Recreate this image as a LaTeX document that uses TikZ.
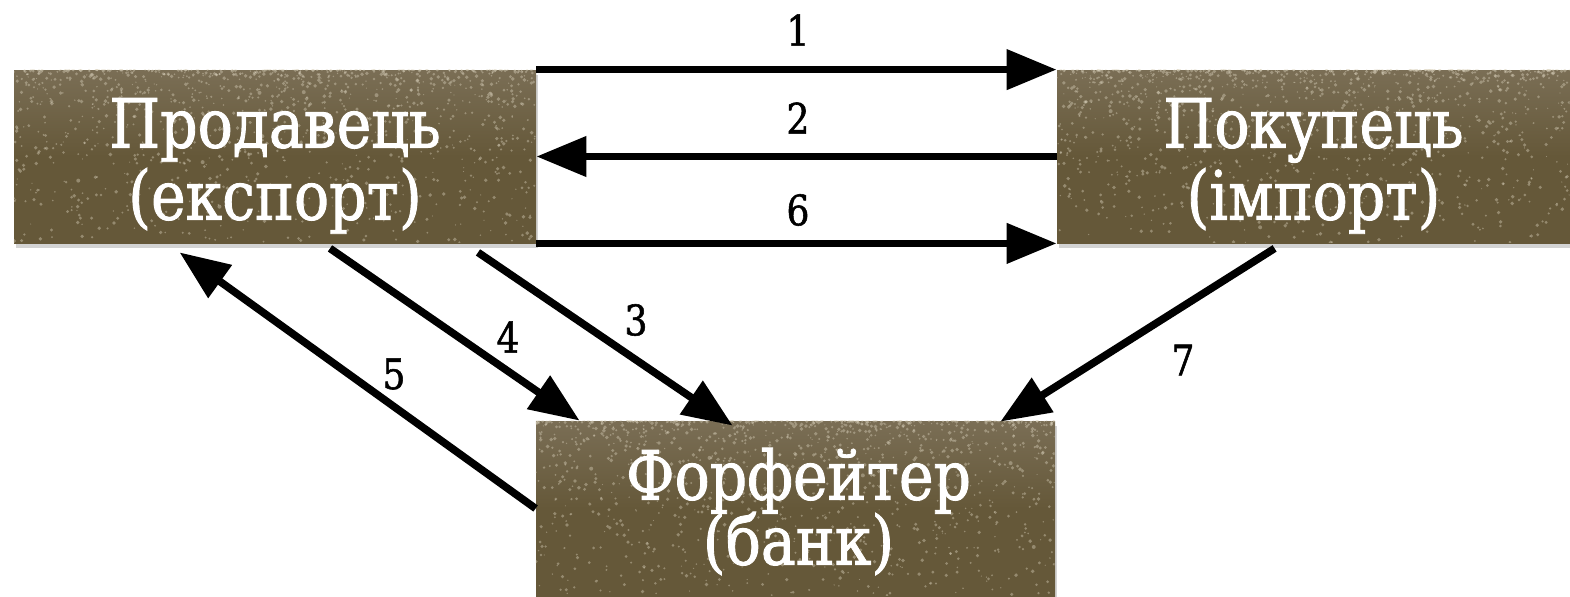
\documentclass[tikz,border=0pt]{standalone}
\usepackage{fontspec}
\setmainfont{DejaVu Serif}[FakeStretch=0.86,FakeBold=1.3]
\usetikzlibrary{arrows.meta,calc,shadows}
\definecolor{boxbrown}{HTML}{655839}
\definecolor{boxlight}{HTML}{7A6E55}
\definecolor{speck}{HTML}{DDD5C0}
\tikzset{
  panel/.style={rectangle, draw=none, inner sep=0pt,
    top color=boxlight, bottom color=boxbrown, middle color=boxbrown,
    drop shadow={shadow xshift=1pt, shadow yshift=-2.5pt, opacity=0.35}},
  paneltext/.style={text=white, font=\fontsize{34}{36}\selectfont, inner sep=0pt, anchor=base},
  flow/.style={line width=3.8pt, -{Triangle[length=25pt,width=19.5pt]}},
  numlabel/.style={font=\fontsize{21}{24}\selectfont, inner sep=0pt}
}
\newcommand\specklebox[3]{% node, width, height (px)
  \begin{scope}[shift={(#1.north west)}]
    \clip (0,0) rectangle (#2,#3);
    \foreach \k in {1,...,1300}{
      \pgfmathsetmacro\px{rnd*#2}
      \pgfmathsetmacro\py{(rnd^2.2)*#3}
      \pgfmathsetmacro\pr{0.3+rnd*0.7}
      \fill[speck, opacity=0.4] (\px,\py) circle[radius=\pr pt];
    }
  \end{scope}}
\begin{document}
\begin{tikzpicture}[x=0.5pt,y=-0.5pt]
\pgfmathsetseed{11}
\useasboundingbox (0,0) rectangle (1570,596);
% boxes
\node[panel, minimum width=261pt, minimum height=86.5pt] (L) at (275,156.5) {};
\node[panel, minimum width=256.5pt, minimum height=86.5pt] (R) at (1313.5,156.5) {};
\node[panel, minimum width=259.5pt, minimum height=87.5pt] (F) at (795.5,508.5) {};
\specklebox{L}{522}{173}
\specklebox{R}{513}{173}
\specklebox{F}{519}{175}
% texts
\node[paneltext] (Lt1) at ($(L.north)+(0,78)$) {Продавець};
\node[paneltext] (Lt2) at ($(L.north)+(0,150)$) {(експорт)};
\node[paneltext] (Rt1) at ($(R.north)+(0,78)$) {Покупець};
\node[paneltext] (Rt2) at ($(R.north)+(0,150)$) {(імпорт)};
\node[paneltext] (Ft1) at ($(F.north)+(3,79)$) {Форфейтер};
\node[paneltext] (Ft2) at ($(F.north)+(3,144)$) {(банк)};
% connectors
\draw[flow] (L.north east) -- (R.north west);
\draw[flow] (R.west) -- (L.east);
\draw[flow] (L.south east) -- (R.south west);
\draw[flow] ($(L.south)+(55,5)$) -- ($(F.north west)+(44,0)$);
\draw[flow] ($(L.south)+(203,9)$) -- ($(F.north west)+(197,5)$);
\draw[flow] (F.west) -- ($(L.south west)+(166,9)$);
\draw[flow] ($(R.south west)+(218,5)$) -- ($(F.north east)+(-55,1)$);
% labels
\node[numlabel] (n1) at (798,30) {1};
\node[numlabel] (n2) at (798,118) {2};
\node[numlabel] (n6) at (798,210) {6};
\node[numlabel] (n3) at (636,320) {3};
\node[numlabel] (n4) at (508,337) {4};
\node[numlabel] (n5) at (394,374) {5};
\node[numlabel] (n7) at (1183,360) {7};
\end{tikzpicture}
\end{document}
